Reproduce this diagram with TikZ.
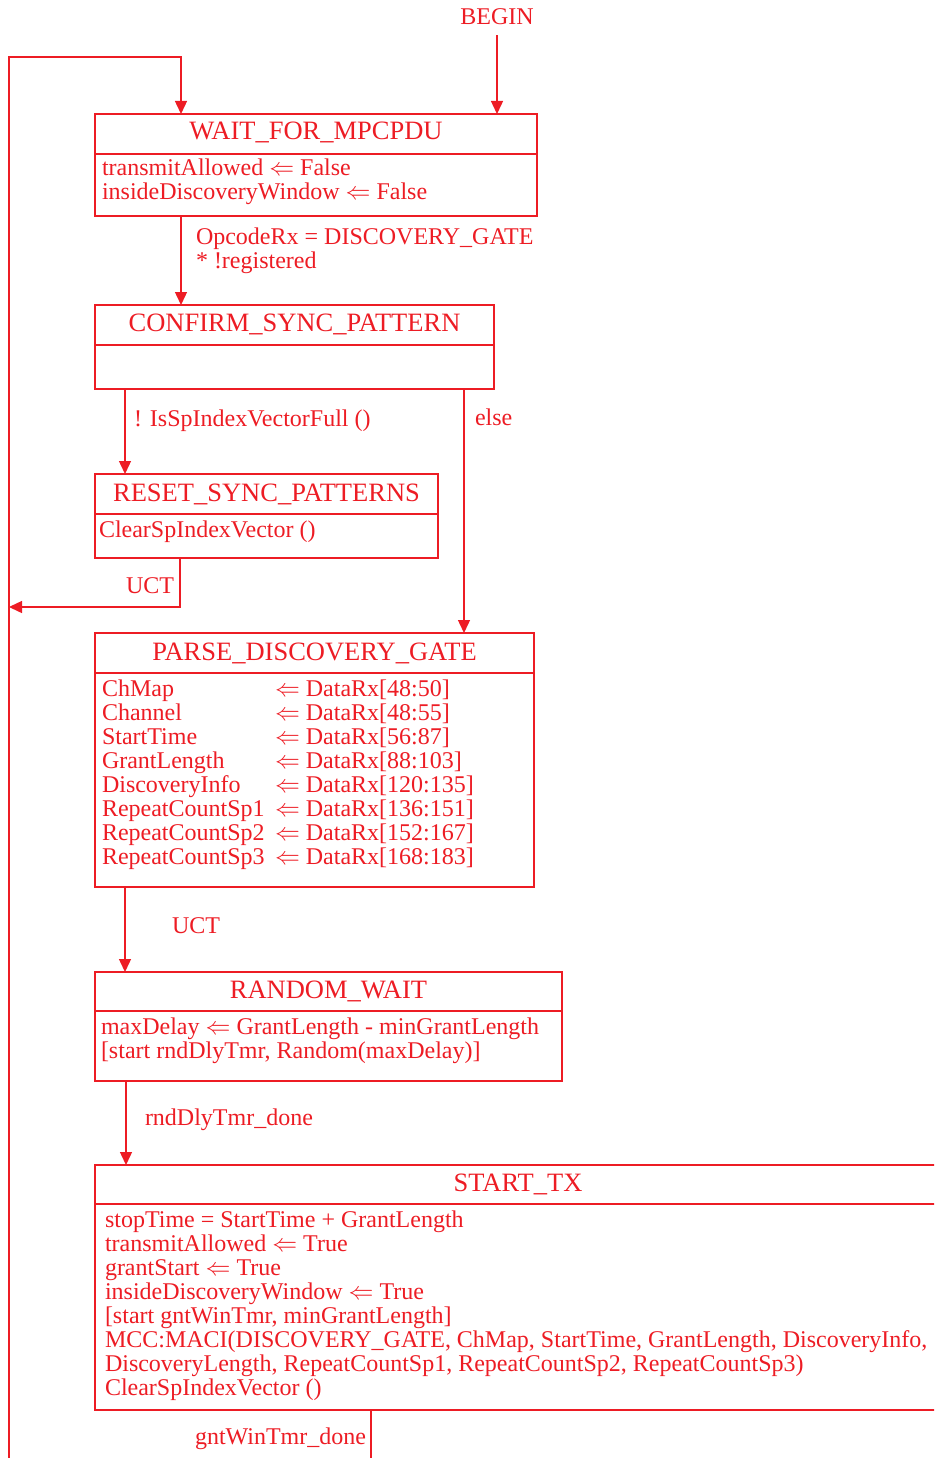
\documentclass[tikz,border=0pt]{standalone}
\usepackage{fontspec}
\setmainfont{Liberation Serif}
\usetikzlibrary{arrows.meta}
\definecolor{sred}{RGB}{237,28,36}
\begin{document}
\begin{tikzpicture}[x=1pt,y=-1pt,
  every node/.style={font=\fontsize{24}{24}\selectfont, text=sred, inner sep=0pt, outer sep=0pt},
  statebox/.style={draw=sred, line width=1.4pt, rectangle, anchor=north west, inner sep=0pt},
  divline/.style={draw=sred, line width=1.4pt},
  conn/.style={draw=sred, line width=1.4pt},
  arr/.style={conn, -{Triangle[length=13pt,width=12pt]}},
  ttl/.style={anchor=base, font=\fontsize{26.5}{24}\selectfont},
  txt/.style={anchor=base west}]
\useasboundingbox (0,0) rectangle (934,1458);
\clip (0,0) rectangle (934,1458);

% coordinates for connector columns
\coordinate (x181) at (181,0);
\coordinate (x125) at (125,0);
\coordinate (x464) at (464,0);
\coordinate (x180) at (180,0);
\coordinate (x126) at (126,0);
\coordinate (x371) at (371,0);
\coordinate (lb) at (9,1470);
\coordinate (ltop) at (181,57);
\coordinate (lmid) at (9,607);
\coordinate (gb) at (371,1470);

% BEGIN
\node[anchor=base] (begin) at (497,25) {BEGIN};

% WAIT_FOR_MPCPDU
\node[statebox, minimum width=442pt, minimum height=102pt] (w) at (95,114) {};
\draw[divline] ([yshift=-40pt]w.north west) -- ([yshift=-40pt]w.north east);
\node[ttl] (wt) at (316,140) {WAIT\_FOR\_MPCPDU};
\node[txt] (w1) at (102,176) {transmitAllowed $\Leftarrow$ False};
\node[txt] (w2) at (102,200) {insideDiscoveryWindow $\Leftarrow$ False};

% CONFIRM_SYNC_PATTERN
\node[statebox, minimum width=399pt, minimum height=84pt] (c) at (95,305) {};
\draw[divline] ([yshift=-40pt]c.north west) -- ([yshift=-40pt]c.north east);
\node[ttl] (ct) at (294.5,331) {CONFIRM\_SYNC\_PATTERN};

% RESET_SYNC_PATTERNS
\node[statebox, minimum width=343pt, minimum height=84pt] (r) at (95,474) {};
\draw[divline] ([yshift=-40pt]r.north west) -- ([yshift=-40pt]r.north east);
\node[ttl] (rt) at (266.5,501) {RESET\_SYNC\_PATTERNS};
\node[txt] (r1) at (99,537) {ClearSpIndexVector ()};

% PARSE_DISCOVERY_GATE
\node[statebox, minimum width=439pt, minimum height=254pt] (p) at (95,633) {};
\draw[divline] ([yshift=-40pt]p.north west) -- ([yshift=-40pt]p.north east);
\node[ttl] (pt) at (314.5,660) {PARSE\_DISCOVERY\_GATE};
\node[txt] (pa1) at (102,696) {ChMap};
\node[txt] (pa2) at (102,720) {Channel};
\node[txt] (pa3) at (102,744) {StartTime};
\node[txt] (pa4) at (102,768) {GrantLength};
\node[txt] (pa5) at (102,792) {DiscoveryInfo};
\node[txt] (pa6) at (102,816) {RepeatCountSp1};
\node[txt] (pa7) at (102,840) {RepeatCountSp2};
\node[txt] (pa8) at (102,864) {RepeatCountSp3};
\node[txt] (pb1) at (275,696) {$\Leftarrow$ DataRx[48:50]};
\node[txt] (pb2) at (275,720) {$\Leftarrow$ DataRx[48:55]};
\node[txt] (pb3) at (275,744) {$\Leftarrow$ DataRx[56:87]};
\node[txt] (pb4) at (275,768) {$\Leftarrow$ DataRx[88:103]};
\node[txt] (pb5) at (275,792) {$\Leftarrow$ DataRx[120:135]};
\node[txt] (pb6) at (275,816) {$\Leftarrow$ DataRx[136:151]};
\node[txt] (pb7) at (275,840) {$\Leftarrow$ DataRx[152:167]};
\node[txt] (pb8) at (275,864) {$\Leftarrow$ DataRx[168:183]};

% RANDOM_WAIT
\node[statebox, minimum width=467pt, minimum height=109pt] (rw) at (95,972) {};
\draw[divline] ([yshift=-39pt]rw.north west) -- ([yshift=-39pt]rw.north east);
\node[ttl] (rwt) at (328.5,998) {RANDOM\_WAIT};
\node[txt] (rw1) at (101,1034) {maxDelay $\Leftarrow$ GrantLength - minGrantLength};
\node[txt] (rw2) at (101,1058) {[start rndDlyTmr, Random(maxDelay)]};

% START_TX
\node[statebox, minimum width=846pt, minimum height=245pt] (s) at (95,1165) {};
\draw[divline] ([yshift=-39pt]s.north west) -- ([yshift=-39pt]s.north east);
\node[ttl] (st) at (518,1191) {START\_TX};
\node[txt] (s1) at (105,1227) {stopTime = StartTime + GrantLength};
\node[txt] (s2) at (105,1251) {transmitAllowed $\Leftarrow$ True};
\node[txt] (s3) at (105,1275) {grantStart $\Leftarrow$ True};
\node[txt] (s4) at (105,1299) {insideDiscoveryWindow $\Leftarrow$ True};
\node[txt] (s5) at (105,1323) {[start gntWinTmr, minGrantLength]};
\node[txt] (s6) at (105,1347) {MCC:MACI(DISCOVERY\_GATE, ChMap, StartTime, GrantLength, DiscoveryInfo,};
\node[txt] (s7) at (105,1371) {DiscoveryLength, RepeatCountSp1, RepeatCountSp2, RepeatCountSp3)};
\node[txt] (s8) at (105,1395) {ClearSpIndexVector ()};

% connectors
\draw[arr] ([yshift=-10pt]begin.south) -- (begin.south |- w.north);
\draw[arr] (lb) |- (ltop) -- (ltop |- w.north);

\draw[arr] (w.south -| x181) -- (c.north -| x181);
\node[txt] (l1) at (196,244) {OpcodeRx = DISCOVERY\_GATE};
\node[txt] (l2) at (196,268) {* !registered};

\draw[arr] (c.south -| x125) -- (r.north -| x125);
\node[txt] (l3) at (134,426) {! IsSpIndexVectorFull ()};

\draw[arr] (c.south -| x464) -- (p.north -| x464);
\node[txt] (l4) at (475,425) {else};

\draw[arr] (r.south -| x180) |- (lmid);
\node[anchor=base east] (l5) at (174,593) {UCT};

\draw[arr] (p.south -| x125) -- (rw.north -| x125);
\node[txt] (l6) at (172,933) {UCT};

\draw[arr] (rw.south -| x126) -- (s.north -| x126);
\node[txt] (l7) at (145,1125) {rndDlyTmr\_done};

\draw[conn] (s.south -| x371) -- (gb);
\node[anchor=base east] (l8) at (366,1444) {gntWinTmr\_done};
\end{tikzpicture}
\end{document}
